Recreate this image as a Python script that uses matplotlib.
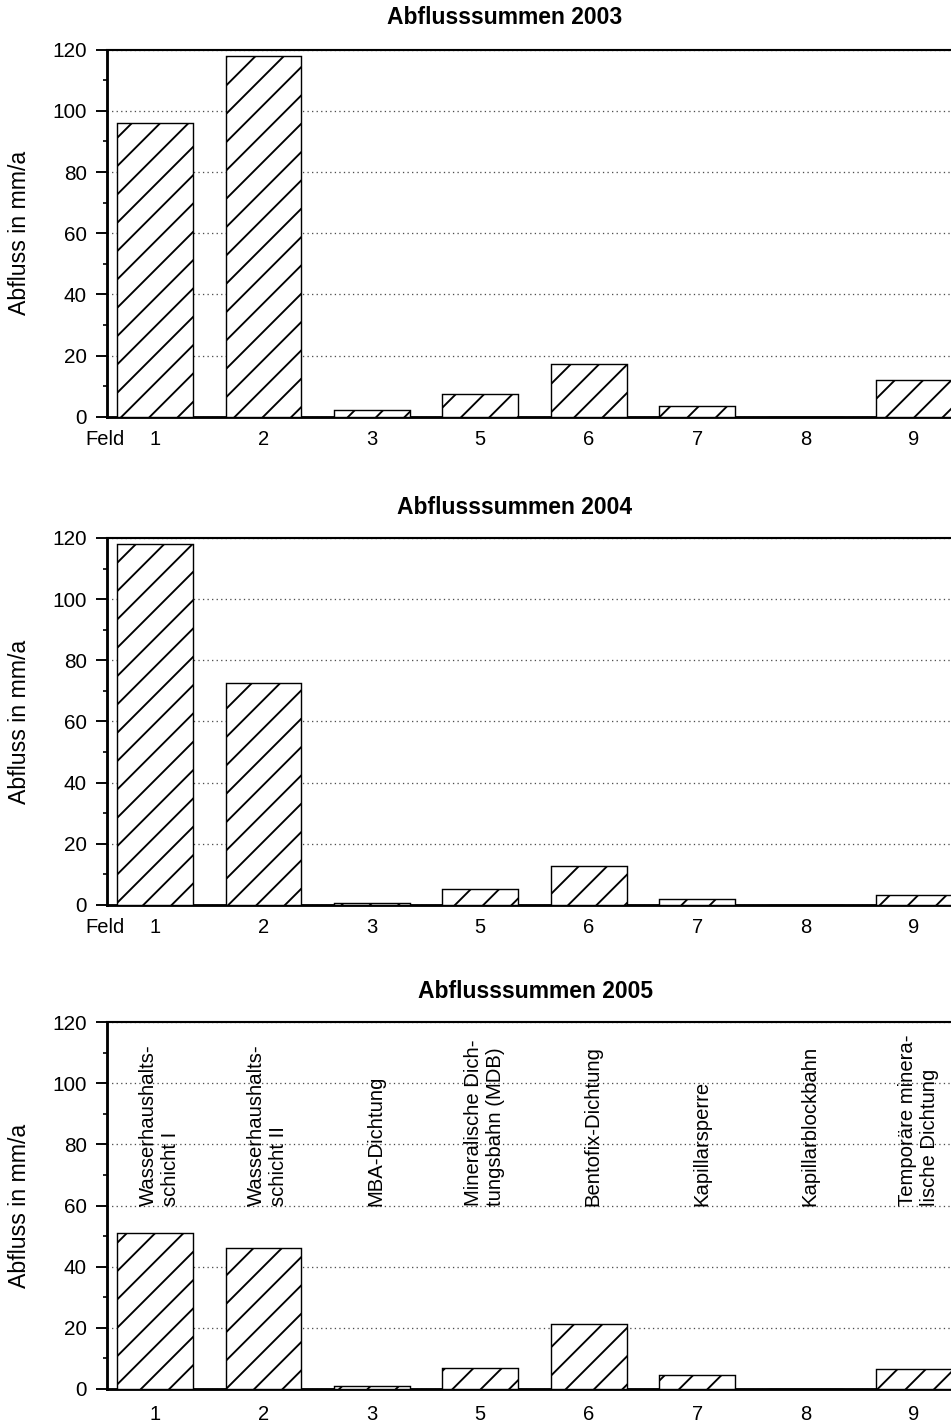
import numpy as np
import matplotlib
matplotlib.use("Agg")
import matplotlib.pyplot as plt
from matplotlib.ticker import MultipleLocator

# ---- data ----
fields = ['1', '2', '3', '5', '6', '7', '8', '9']
years = ['2003', '2004', '2005']
abfluss_2003 = [96.0, 118.0, 2.2, 7.5, 17.3, 3.6, 0.0, 12.0]
abfluss_2004 = [118.0, 72.5, 0.6, 5.1, 12.8, 1.9, 0.0, 3.4]
abfluss_2005 = [51.1, 46.0, 1.0, 7.0, 21.1, 4.6, 0.0, 6.5]
labels_2005 = ['Wasserhaushalts-\nschicht I',
               'Wasserhaushalts-\nschicht II',
               'MBA-Dichtung',
               'Mineralische Dich-\ntungsbahn (MDB)',
               'Bentofix-Dichtung',
               'Kapillarsperre',
               'Kapillarblockbahn',
               'Temporäre minera-\nlische Dichtung']
series = [abfluss_2003, abfluss_2004, abfluss_2005]

# ---- style ----
DPI = 170
W, H = 952, 1424
plt.rcParams['font.family'] = ['Liberation Sans', 'DejaVu Sans']
plt.rcParams['hatch.linewidth'] = 0.8
plt.rcParams['hatch.color'] = 'black'

fig = plt.figure(figsize=(W / DPI, H / DPI), dpi=DPI)
fig.patch.set_facecolor('white')

ax_left = 107 / W
ax_width = 855 / W
ax_h = 367 / H
bottoms_px = [416.7, 905.0, 1389.0]
title_pos = [(505, 18), (515, 508), (536, 992)]
tick_pad = [5.5, 5.5, 6.8]

x = np.arange(len(fields))

for i, vals in enumerate(series):
    ax = fig.add_axes([ax_left, 1 - bottoms_px[i] / H, ax_width, ax_h])
    ax.set_xlim(-0.443, len(fields) - 1 + 0.443)
    ax.set_ylim(0, 120)
    ax.yaxis.grid(True, which='major', color='0.3',
                  linestyle=(0, (1, 2.5)), linewidth=0.55)
    ax.set_axisbelow(True)
    ax.bar(x, vals, width=0.70, facecolor='white', edgecolor='black',
           linewidth=0.6, hatch='//', zorder=3)

    ax.set_xticks(x)
    ax.set_xticklabels(fields, fontsize=8.5)
    ax.tick_params(axis='x', length=0, pad=tick_pad[i])
    ax.yaxis.set_major_locator(MultipleLocator(20))
    ax.yaxis.set_minor_locator(MultipleLocator(10))
    ax.tick_params(axis='y', which='major', direction='out', length=4.7,
                   width=0.8, pad=3.8, labelsize=8.8)
    ax.tick_params(axis='y', which='minor', direction='out', length=1.6,
                   width=0.7)

    for s in ['left', 'bottom']:
        ax.spines[s].set_linewidth(1.2)
    ax.spines['top'].set_linewidth(0.9)
    ax.spines['right'].set_visible(False)

    ax.set_ylabel('Abfluss in mm/a', fontsize=9.8)
    ax.yaxis.set_label_coords(-0.0889, 0.5)

    tx, ty = title_pos[i]
    fig.text(tx / W, 1 - ty / H, 'Abflusssummen ' + years[i],
             fontsize=9.7, fontweight='bold', ha='center', va='center')

    if i < 2:
        ax.text(-0.46, -tick_pad[i] * DPI / 72 / 367, 'Feld',
                transform=ax.get_xaxis_transform(), fontsize=8.5,
                ha='center', va='top')
    else:
        for xi, lab in zip(x, labels_2005):
            ax.text(xi + 0.04, 59.8, lab, rotation=90, fontsize=8.6,
                    ha='center', va='bottom', multialignment='left',
                    linespacing=1.2, zorder=4)

fig.savefig('out.png', dpi=DPI, facecolor='white')
